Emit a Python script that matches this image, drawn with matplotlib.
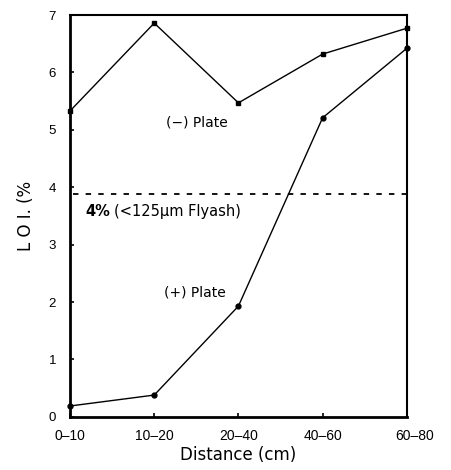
import matplotlib
matplotlib.use("Agg")
import matplotlib.pyplot as plt
import matplotlib.transforms as mtransforms

plt.rcParams['font.family'] = ['Liberation Sans', 'DejaVu Sans']

categories = ["0–10", "10–20", "20–40", "40–60", "60–80"]
minus_plate = [5.33, 6.86, 5.47, 6.32, 6.77]
plus_plate = [0.19, 0.38, 1.93, 5.21, 6.42]
flyash_loi = 3.88
y_ticks = [0, 1, 2, 3, 4, 5, 6, 7]

wide = ['DejaVu Sans']

fig = plt.figure(figsize=(4.52, 4.70), dpi=100)
ax = fig.add_axes([0.155, 0.113, 0.745, 0.855])

x = list(range(len(categories)))
ax.plot(x, minus_plate, color="black", lw=1.0, marker="s", ms=3.5,
        clip_on=False, zorder=3)
ax.plot(x, plus_plate, color="black", lw=1.0, marker="o", ms=3.5,
        clip_on=False, zorder=3)
ax.axhline(flyash_loi, xmin=0.01, xmax=1.0, color="black", lw=1.3,
           ls=(0, (3, 4)))

ax.set_xlim(0, len(categories) - 1)
ax.set_ylim(0, 7)
ax.set_xticks(x)
ax.set_xticklabels(categories, fontsize=10)
ax.set_yticks(y_ticks)
ax.set_yticklabels([str(v) for v in y_ticks], fontsize=9.5)
ax.tick_params(direction="in", length=3, width=1.2, pad=10)
ax.tick_params(axis="x", pad=9)

# last category label sits a little right of the frame corner
last = ax.get_xticklabels()[-1]
last.set_transform(last.get_transform() +
                   mtransforms.ScaledTranslation(8 / 100, 0, fig.dpi_scale_trans))

for side in ["left", "bottom"]:
    ax.spines[side].set_linewidth(2.0)
for side in ["top", "right"]:
    ax.spines[side].set_linewidth(1.5)

ax.text(1.14, 5.12, "(−) Plate", fontsize=10, family=wide,
        ha="left", va="center")
ax.text(1.11, 2.16, "(+) Plate", fontsize=10, family=wide,
        ha="left", va="center")
ax.text(0.18, 3.57, "4%", fontsize=10.5, fontweight="bold", family=wide,
        ha="left", va="center")
ax.text(0.52, 3.57, "(<125μm Flyash)", fontsize=10.5, family=wide,
        ha="left", va="center")

ax.set_xlabel("Distance (cm)", fontsize=12, family=wide, labelpad=2)
ax.set_ylabel("L O I. (%", fontsize=12, family=wide, labelpad=10)

fig.savefig("out.png", dpi=100)
